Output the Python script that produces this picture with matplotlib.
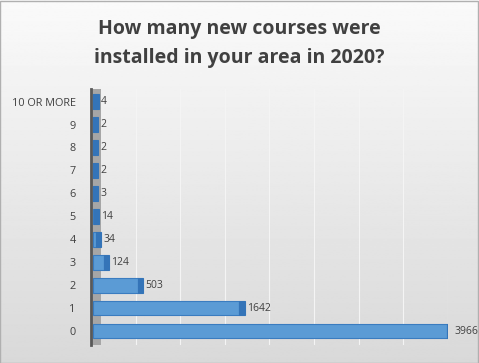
import numpy as np
import matplotlib
matplotlib.use("Agg")
from matplotlib import pyplot as plt
from matplotlib.patches import Rectangle

categories = ['0', '1', '2', '3', '4', '5', '6', '7', '8', '9', '10 OR MORE']
counts = [3966, 1642, 503, 124, 34, 14, 3, 2, 2, 2, 4]
title = "How many new courses were\ninstalled in your area in 2020?"

plt.rcParams['font.family'] = ['Open Sans', 'DejaVu Sans']

fig = plt.figure(figsize=(4.79, 3.63), dpi=100)

# gradient background
bg = fig.add_axes([0, 0, 1, 1], zorder=-10)
grad = np.linspace(0.98, 0.85, 256).reshape(-1, 1)
bg.imshow(grad, cmap='gray', vmin=0, vmax=1, aspect='auto', extent=[0, 1, 0, 1])
bg.add_patch(Rectangle((0.001, 0.001), 0.997, 0.996, fill=False, edgecolor='#b0b0b0', lw=1))
bg.set_xlim(0, 1)
bg.set_ylim(0, 1)
bg.axis('off')

ax = fig.add_axes([0.19, 0.05, 0.745, 0.705])
ax.patch.set_alpha(0)
y = np.arange(len(categories))
cap = 60  # width of the 3d end face, in data units

# wall on the left
ax.add_patch(Rectangle((0, 0), 0.028, 1, transform=ax.transAxes,
                       facecolor='#a6a6a6', edgecolor='none', zorder=1))
ax.barh(y, counts, left=20, height=0.64, color='#5b9bd5', edgecolor='#3a7cc0', lw=0.8, zorder=3)
# end face of each bar
ax.barh(y, cap, left=np.array(counts) + 20, height=0.64, color='#3474b8',
        edgecolor='#3474b8', lw=0.8, zorder=3)

for yi, v in zip(y, counts):
    ax.annotate(str(v), (v + 20 + cap, yi), xytext=(1.5, 0), textcoords='offset points',
                va='center', ha='left', fontsize=7.5, color='#404040', zorder=4,
                annotation_clip=False)

ax.set_xlim(0, 4000)
ax.set_ylim(-0.6, len(categories) - 0.45)
ax.set_xticks(np.arange(500, 4001, 500))
ax.set_xticklabels([])
ax.tick_params(axis='x', length=0)
ax.grid(axis='x', color='#f4f4f4', lw=0.8)
ax.set_axisbelow(True)
ax.set_yticks(y)
ax.set_yticklabels(categories, fontsize=7.8, color='#404040')
ax.tick_params(axis='y', length=0, pad=11)
for s in ['top', 'right', 'bottom']:
    ax.spines[s].set_visible(False)
ax.spines['left'].set_color('#595959')
ax.spines['left'].set_linewidth(2)

fig.text(0.5, 0.88, title, ha='center', va='center', fontsize=14,
         fontweight='bold', color='#404040', linespacing=1.6)

fig.savefig('out.png', dpi=100)
